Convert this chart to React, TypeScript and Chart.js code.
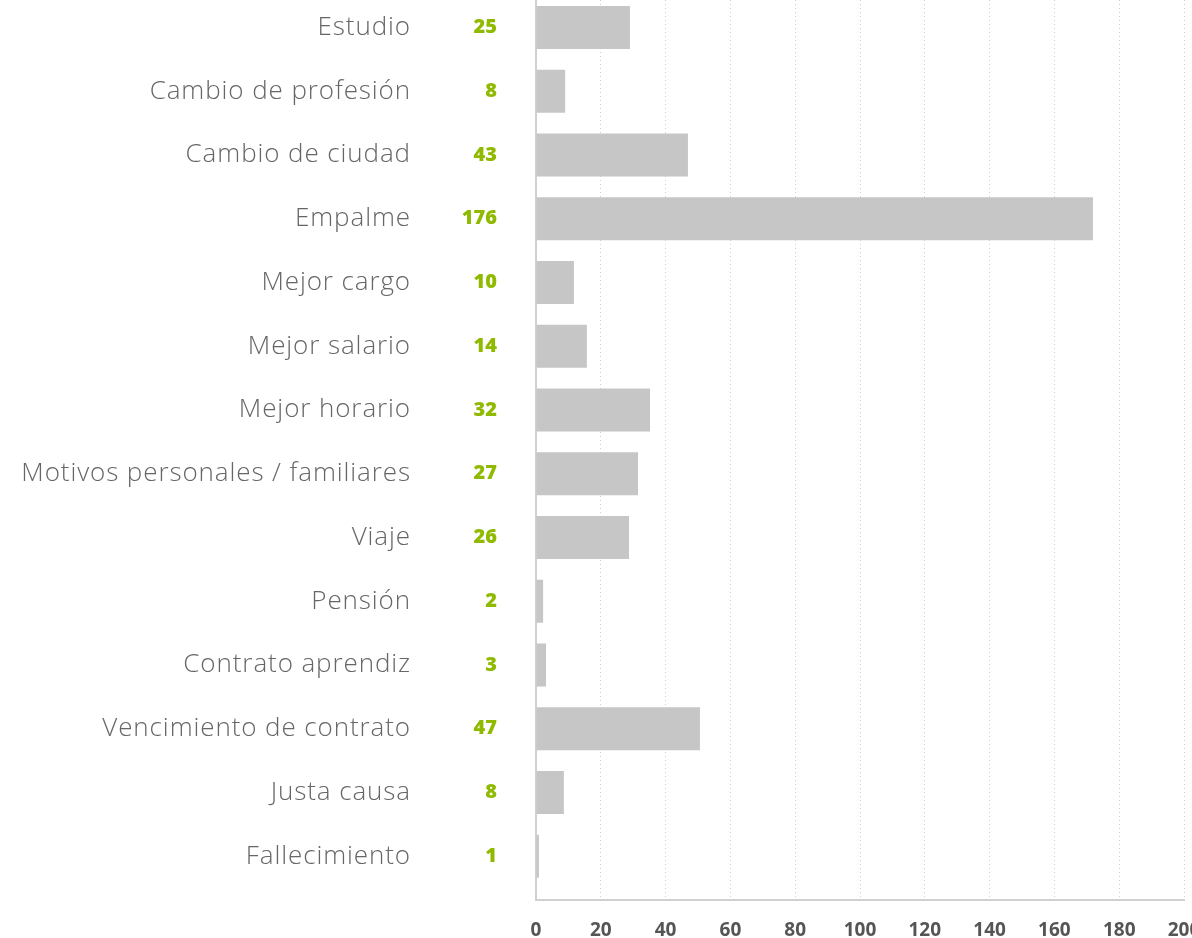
import React, { useEffect, useRef } from "react";
import { Chart, registerables } from "chart.js";

Chart.register(...registerables);

const categories = [
  "Estudio",
  "Cambio de profesión",
  "Cambio de ciudad",
  "Empalme",
  "Mejor cargo",
  "Mejor salario",
  "Mejor horario",
  "Motivos personales / familiares",
  "Viaje",
  "Pensión",
  "Contrato aprendiz",
  "Vencimiento de contrato",
  "Justa causa",
  "Fallecimiento",
];

// printed counts (green labels)
const counts = ["25", "8", "43", "176", "10", "14", "32", "27", "26", "2", "3", "47", "8", "1"];

// bar lengths as drawn in the picture
const barValues = [29.0, 9.0, 46.9, 171.9, 11.7, 15.7, 35.2, 31.5, 28.7, 2.2, 3.1, 50.6, 8.6, 0.9];

const xTicksMin = 0;
const xTicksMax = 200;
const xTicksStep = 20;

export default function App() {
  const ref = useRef<HTMLCanvasElement | null>(null);

  useEffect(() => {
    if (!ref.current) return;
    const idxTicks = (scale: any) => {
      scale.ticks = categories.map((_, i) => ({ value: i }));
    };
    const spacedLabels = (s: any) => {
      if (s.__spaced) return;
      s.__spaced = true;
      const orig = s.drawLabels.bind(s);
      s.drawLabels = (ca: any) => {
        const ctx: any = s.ctx;
        const prev = ctx.letterSpacing;
        ctx.letterSpacing = "0.9px";
        orig(ca);
        ctx.letterSpacing = prev || "0px";
      };
    };
    const chart = new Chart(ref.current, {
      type: "bar",
      data: {
        datasets: [
          {
            data: barValues.map((v, i) => ({ x: v, y: i })),
            backgroundColor: "#c6c6c6",
            borderWidth: 0,
            barPercentage: 0.675,
            categoryPercentage: 1,
            yAxisID: "y",
            xAxisID: "x",
          },
        ],
      },
      options: {
        indexAxis: "y",
        responsive: false,
        animation: false,
        devicePixelRatio: 1,
        layout: { padding: { top: 0, left: 0, right: 8, bottom: 0 } },
        plugins: { legend: { display: false }, tooltip: { enabled: false } },
        scales: {
          yl: {
            type: "linear",
            position: "left",
            weight: 1,
            reverse: true,
            offset: false,
            min: -0.431,
            max: 13.686,
            bounds: "data",
            grid: { display: false, drawTicks: false, offset: false },
            border: { display: false },
            afterBuildTicks: idxTicks,
            afterFit: (s: any) => {
              s.width = 421;
              s.paddingTop = 0;
              s.paddingBottom = 0;
            },
            afterUpdate: spacedLabels,
            ticks: {
              autoSkip: false,
              padding: 10,
              color: "#666",
              font: { family: "'Open Sans'", size: 26, weight: "300" },
              callback: (v: any) => categories[v as number],
            },
          },
          y: {
            type: "linear",
            position: "left",
            weight: 0,
            reverse: true,
            offset: false,
            min: -0.431,
            max: 13.686,
            bounds: "data",
            grid: { display: false, drawTicks: false, offset: false },
            border: { display: true, color: "#d0d0d0", width: 2 },
            afterBuildTicks: idxTicks,
            afterFit: (s: any) => {
              s.width = 115;
              s.paddingTop = 0;
              s.paddingBottom = 0;
            },
            ticks: {
              autoSkip: false,
              padding: 39,
              color: "#8fba00",
              font: { family: "'Open Sans'", size: 20, weight: "800" },
              callback: (v: any) => counts[v as number],
            },
          },
          x: {
            type: "linear",
            position: "bottom",
            min: xTicksMin,
            max: xTicksMax,
            grid: { display: true, color: "#cfcfcf", lineWidth: 1, drawTicks: false },
            border: { display: true, color: "#d0d0d0", width: 2, dash: [1, 3] },
            afterFit: (s: any) => {
              s.height = 38;
              s.paddingLeft = 0;
              s.paddingRight = 0;
            },
            ticks: {
              stepSize: xTicksStep,
              padding: 19,
              color: "#555",
              font: { family: "'Open Sans'", size: 19, weight: "bold" },
            },
          },
        },
      },
    });
    return () => chart.destroy();
  }, []);

  return (
    <div style={{ position: "absolute", left: 0, top: 0, width: 1192, height: 938, background: "#fff" }}>
      <canvas ref={ref} width={1192} height={938} />
    </div>
  );
}
